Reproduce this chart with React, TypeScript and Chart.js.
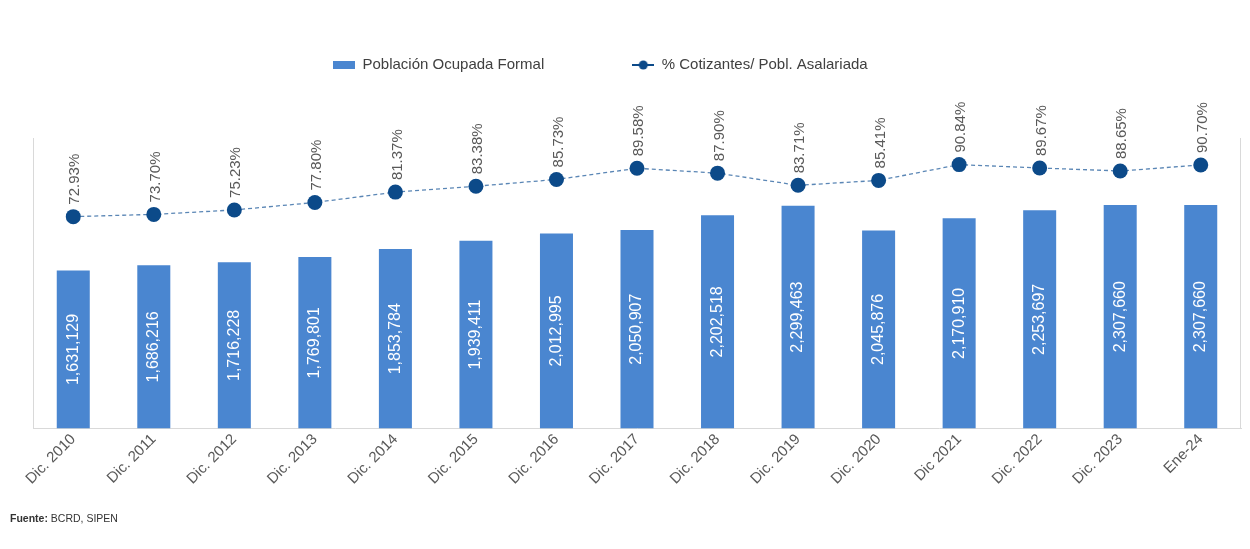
import { useEffect, useRef } from 'react';
import { Chart, registerables } from 'chart.js';

Chart.register(...registerables);

const categories = [
  'Dic. 2010', 'Dic. 2011', 'Dic. 2012', 'Dic. 2013', 'Dic. 2014',
  'Dic. 2015', 'Dic. 2016', 'Dic. 2017', 'Dic. 2018', 'Dic. 2019',
  'Dic. 2020', 'Dic 2021', 'Dic. 2022', 'Dic. 2023', 'Ene-24',
];
const poblacionOcupadaFormal = [
  1631129, 1686216, 1716228, 1769801, 1853784,
  1939411, 2012995, 2050907, 2202518, 2299463,
  2045876, 2170910, 2253697, 2307660, 2307660,
];
const cotizantesPct = [
  72.93, 73.70, 75.23, 77.80, 81.37,
  83.38, 85.73, 89.58, 87.90, 83.71,
  85.41, 90.84, 89.67, 88.65, 90.70,
];
const seriesNames = ['Población Ocupada Formal', '% Cotizantes/ Pobl. Asalariada'];
const barAxisMax = 3000000;
const pctAxisMax = 100;

const FONT = "'Liberation Sans', Arial, sans-serif";
const BAR_COLOR = '#4A86D0';
const POINT_COLOR = '#0C4A89';
const LINE_COLOR = '#5A86B5';
const LEGEND_X = 333;
const LEGEND_Y = 65;

function makeBarIcon(): HTMLCanvasElement {
  const c = document.createElement('canvas');
  c.width = 22;
  c.height = 8;
  const ctx = c.getContext('2d')!;
  ctx.fillStyle = BAR_COLOR;
  ctx.fillRect(0, 0, 22, 8);
  return c;
}

function makeLineIcon(): HTMLCanvasElement {
  const c = document.createElement('canvas');
  c.width = 22;
  c.height = 10;
  const ctx = c.getContext('2d')!;
  ctx.strokeStyle = POINT_COLOR;
  ctx.lineWidth = 2;
  ctx.beginPath();
  ctx.moveTo(0, 5);
  ctx.lineTo(22, 5);
  ctx.stroke();
  ctx.fillStyle = POINT_COLOR;
  ctx.beginPath();
  ctx.arc(11, 5, 4.5, 0, Math.PI * 2);
  ctx.fill();
  return c;
}

const framePlugin = {
  id: 'plotFrame',
  beforeDatasetsDraw(chart: any) {
    const { ctx, chartArea } = chart;
    ctx.save();
    ctx.strokeStyle = '#D9D9D9';
    ctx.lineWidth = 1;
    ctx.beginPath();
    ctx.moveTo(Math.round(chartArea.left) + 0.5, chartArea.top);
    ctx.lineTo(Math.round(chartArea.left) + 0.5, chartArea.bottom);
    ctx.moveTo(Math.round(chartArea.right) - 0.5, chartArea.top);
    ctx.lineTo(Math.round(chartArea.right) - 0.5, chartArea.bottom);
    ctx.stroke();
    ctx.restore();
  },
};

const legendPlacement = {
  id: 'legendPlacement',
  afterLayout(chart: any) {
    const lg = chart.legend;
    if (!lg) return;
    const pad = lg.options.labels.padding;
    const fs = lg.options.labels.font.size;
    lg.left = LEGEND_X - pad;
    lg.top = LEGEND_Y - pad - fs / 2;
  },
};

const valueLabels = {
  id: 'valueLabels',
  afterDatasetsDraw(chart: any) {
    const ctx = chart.ctx;
    const barMeta = chart.getDatasetMeta(0);
    ctx.save();
    ctx.font = `16px ${FONT}`;
    ctx.fillStyle = '#FFFFFF';
    ctx.textAlign = 'center';
    ctx.textBaseline = 'middle';
    barMeta.data.forEach((el: any, i: number) => {
      const { x, y, base } = el.getProps(['x', 'y', 'base'], true);
      ctx.save();
      ctx.translate(x, (y + base) / 2);
      ctx.rotate(-Math.PI / 2);
      ctx.fillText(poblacionOcupadaFormal[i].toLocaleString('en-US'), 0, 0);
      ctx.restore();
    });
    const lineMeta = chart.getDatasetMeta(1);
    ctx.font = `15px ${FONT}`;
    ctx.fillStyle = '#595959';
    ctx.textAlign = 'left';
    lineMeta.data.forEach((el: any, i: number) => {
      const { x, y } = el.getProps(['x', 'y'], true);
      ctx.save();
      ctx.translate(x + 2, y - 12);
      ctx.rotate(-Math.PI / 2);
      ctx.fillText(cotizantesPct[i].toFixed(2) + '%', 0, 0);
      ctx.restore();
    });
    ctx.restore();
  },
};

export default function App() {
  const canvasRef = useRef<HTMLCanvasElement | null>(null);

  useEffect(() => {
    if (!canvasRef.current) return;
    const icons = [makeBarIcon(), makeLineIcon()];
    const chart = new Chart(canvasRef.current, {
      type: 'bar',
      data: {
        labels: categories,
        datasets: [
          {
            type: 'bar',
            label: seriesNames[0],
            data: poblacionOcupadaFormal,
            backgroundColor: BAR_COLOR,
            borderWidth: 0,
            barPercentage: 0.41,
            categoryPercentage: 1.0,
            yAxisID: 'y',
            order: 1,
          },
          {
            type: 'line',
            label: seriesNames[1],
            data: cotizantesPct,
            borderColor: LINE_COLOR,
            borderWidth: 1.3,
            borderDash: [4, 3],
            pointRadius: 7.5,
            pointBackgroundColor: POINT_COLOR,
            pointBorderColor: POINT_COLOR,
            pointBorderWidth: 0,
            tension: 0,
            yAxisID: 'y1',
            order: 0,
          } as any,
        ],
      },
      options: {
        responsive: false,
        animation: false,
        layout: { padding: { left: 33, right: 9, top: 25, bottom: 59 } },
        plugins: {
          tooltip: { enabled: false },
          legend: {
            display: true,
            position: 'top',
            align: 'start',
            labels: {
              usePointStyle: true,
              pointStyleWidth: 22,
              padding: 88,
              color: '#404040',
              font: { size: 15, family: FONT },
              generateLabels: (ch: any) =>
                ch.data.datasets.map((ds: any, i: number) => ({
                  text: ds.label,
                  pointStyle: icons[i],
                  fillStyle: i === 0 ? BAR_COLOR : POINT_COLOR,
                  strokeStyle: i === 0 ? BAR_COLOR : POINT_COLOR,
                  lineWidth: 0,
                  hidden: false,
                  datasetIndex: i,
                  fontColor: '#404040',
                })),
            },
          },
        },
        scales: {
          x: {
            offset: true,
            grid: { display: false, drawTicks: false },
            border: { display: true, color: '#D9D9D9' },
            ticks: {
              color: '#595959',
              font: { size: 15, family: FONT },
              minRotation: 45,
              maxRotation: 45,
              autoSkip: false,
              padding: 2,
            },
          },
          y: { display: false, min: 0, max: barAxisMax },
          y1: { display: false, position: 'right', min: 0, max: pctAxisMax },
        },
      },
      plugins: [framePlugin, legendPlacement, valueLabels],
    });
    return () => chart.destroy();
  }, []);

  return (
    <div style={{ position: 'absolute', left: 0, top: 0, width: 1250, height: 549, background: '#fff' }}>
      <canvas ref={canvasRef} width={1250} height={549} style={{ width: 1250, height: 549, display: 'block' }} />
      <div
        style={{
          position: 'absolute',
          left: 10,
          top: 512,
          fontFamily: FONT,
          fontSize: 10.5,
          color: '#333',
          whiteSpace: 'nowrap',
        }}
      >
        <b>Fuente:</b> BCRD, SIPEN
      </div>
    </div>
  );
}
